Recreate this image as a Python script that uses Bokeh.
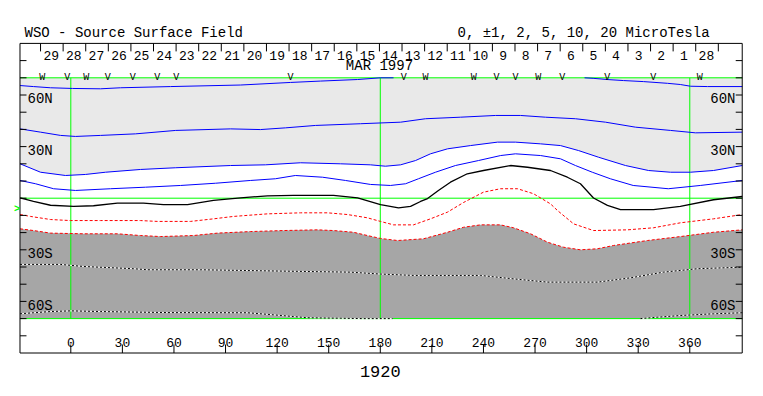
import numpy as np
from bokeh.plotting import figure
from bokeh.models import Range1d
from bokeh.core.properties import value
from bokeh.embed import file_html
from bokeh.resources import INLINE

# ---------------- data (Carrington longitude / latitude, degrees) ----------------
NAN = float("nan")

# +10 contour (blue, top)
c_p10_lon = [-29.5, -21.7, -11.8, 1.0, 17.3, 28.9, 58.0, 98.7, 127.8, 145.3, 166.8, 180.1, 187.7, 240.0,
             298.8, 303.8, 312.0, 321.4, 333.0, 347.0, 354.5, 360.4, 370.3, 390.5]
c_p10_lat = [65.5, 64.9, 64.2, 63.8, 63.6, 64.2, 64.9, 65.8, 67.3, 68.1, 69.0, 70.0, 70.0, NAN,
             70.0, 69.7, 69.0, 68.4, 67.8, 66.8, 66.1, 65.1, 64.9, 64.9]
# +5 contour (blue)
c_p5_lon = [-29.5, -17.6, -6.0, 2.7, 17.3, 37.6, 61.0, 92.9, 110.3, 124.9, 142.3, 168.5, 191.8, 206.3,
            226.6, 247.0, 261.5, 276.1, 293.5, 311.0, 328.4, 348.8, 363.3, 390.5]
c_p5_lat = [40.3, 38.4, 36.5, 35.9, 36.5, 37.4, 39.4, 40.3, 39.9, 40.9, 42.3, 43.3, 44.2, 46.2,
            47.1, 48.1, 48.1, 47.1, 46.2, 44.2, 41.3, 39.4, 38.0, 38.4]
# +2 contour (blue, edge of light shading)
c_p2_lon = [-29.5, -17.6, -3.1, 8.5, 20.2, 40.5, 61.0, 92.9, 113.2, 133.6, 156.8, 174.3, 183.0, 191.8,
            200.5, 209.2, 219.1, 232.5, 248.2, 258.6, 273.2, 284.8, 295.3, 307.0, 322.6, 336.0, 348.8,
            360.4, 373.8, 390.5]
c_p2_lat = [20.0, 15.1, 13.2, 13.8, 15.1, 16.7, 17.7, 19.0, 19.4, 20.6, 20.0, 19.4, 18.6, 19.4,
            21.9, 25.8, 28.7, 30.6, 32.6, 32.6, 31.6, 30.6, 27.7, 23.8, 19.0, 16.1, 15.1,
            15.1, 16.1, 19.0]
# +1 contour (blue)
c_p1_lon = [-29.5, -20.5, -10.0, 2.7, 23.1, 43.4, 63.8, 84.1, 104.4, 119.0, 130.6, 146.4, 159.8, 174.3,
            185.9, 194.7, 202.2, 212.1, 223.7, 237.1, 250.0, 258.6, 273.2, 284.8, 293.5, 303.3, 313.8,
            327.1, 347.5, 366.1, 390.5]
c_p1_lat = [10.3, 8.4, 5.5, 4.5, 5.5, 6.4, 7.4, 8.7, 10.3, 11.3, 13.2, 12.2, 10.3, 8.0,
            7.4, 8.4, 11.3, 15.1, 19.0, 21.9, 24.8, 25.8, 24.8, 22.9, 19.0, 15.1, 11.3,
            7.4, 5.5, 7.4, 10.3]
# neutral line (black)
c_0_lon = [-29.5, -21.7, -11.8, 1.6, 13.2, 27.1, 42.2, 53.9, 67.9, 83.0, 98.7, 114.4, 129.5, 152.8,
           166.8, 180.1, 190.6, 197.6, 203.4, 207.5, 213.8, 220.8, 230.6, 240.0, 255.7, 265.6, 279.0,
           288.8, 296.4, 304.0, 312.1, 319.7, 338.9, 354.5, 373.8, 390.5]
c_0_lat = [0.2, -1.8, -4.1, -4.8, -4.4, -2.9, -2.9, -3.7, -3.7, -1.3, 0.2, 1.4, 1.7, 1.7,
           0.2, -3.7, -5.6, -4.8, -1.9, -0.2, 4.5, 9.3, 14.2, 16.1, 19.0, 18.0, 16.1,
           12.2, 8.4, 0.1, -4.2, -6.7, -6.7, -4.8, -0.9, 1.0]
# -1 contour (red dashed)
c_m1_lon = [-29.5, -23.4, -11.8, -0.2, 17.3, 40.5, 50.4, 69.6, 83.0, 94.6, 114.4, 133.6, 149.3, 160.9,
            172.5, 180.1, 187.7, 199.3, 209.2, 219.1, 228.4, 240.0, 249.9, 259.8, 269.1, 279.0, 283.1,
            292.4, 304.0, 323.7, 338.9, 354.6, 373.8, 390.5]
c_m1_lat = [-9.5, -10.6, -12.4, -13.0, -13.0, -13.0, -13.5, -13.5, -12.0, -10.6, -9.1, -8.5, -8.5, -9.5,
            -11.4, -13.5, -15.5, -15.5, -12.0, -8.1, -2.5, 3.5, 5.5, 5.5, 2.6, -3.3, -7.2,
            -14.9, -18.8, -18.4, -17.2, -14.3, -12.0, -9.5]
# -2 contour (red dashed, edge of dark shading)
c_m2_lon = [-29.5, -21.7, -11.8, 7.4, 27.1, 40.5, 52.2, 71.4, 85.3, 104.5, 123.7, 143.4, 152.8, 164.4,
            172.5, 180.1, 190.0, 205.1, 219.1, 228.4, 238.3, 249.9, 257.5, 267.4, 277.3, 286.6, 296.4,
            306.3, 315.6, 335.4, 354.6, 373.8, 390.5]
c_m2_lat = [-17.8, -18.8, -20.3, -20.7, -20.7, -21.7, -22.3, -21.7, -20.3, -19.4, -18.8, -18.4, -18.8, -19.8,
            -21.7, -23.4, -24.6, -23.6, -19.8, -16.9, -15.5, -15.5, -17.2, -20.7, -25.6, -28.5, -30.0,
            -29.4, -27.5, -24.6, -22.3, -19.8, -18.4]
# -5 contour (dotted)
c_m5_lon = [-29.5, -6.0, 7.4, 36.5, 44.7, 75.4, 123.7, 162.7, 180.1, 199.3, 238.3, 257.5, 277.3, 306.3,
            325.5, 344.7, 364.4, 390.5]
c_m5_lat = [-38.5, -38.5, -39.7, -41.0, -41.6, -41.6, -42.4, -43.0, -44.1, -44.9, -44.9, -46.9, -48.8, -48.8,
            -46.3, -43.0, -41.0, -40.1]
# -10 contour (dotted, bottom)
c_m10_lon = [-29.5, -21.7, -11.8, 0.0, 17.3, 56.2, 102.8, 117.9, 129.5, 137.6, 156.9, 169.7, 187.2, 260.0,
             331.3, 341.2, 354.6, 373.8, 390.5]
c_m10_lat = [-67.2, -66.6, -65.9, -65.5, -65.9, -66.5, -66.6, -67.8, -68.8, -69.5, -69.8, -70.0, -70.0, NAN,
             -70.0, -69.2, -68.2, -67.2, -66.6]

# observation marks along the top of the map
obs_lon = [-16.6, -2.1, 9.0, 21.5, 36.1, 50.3, 61.3, 127.8, 193.7, 206.3, 234.4, 247.6, 258.6, 271.8,
           285.8, 312.0, 338.7, 365.8]
obs_txt = ["W", "V", "W", "V", "V", "V", "V", "V", "V", "W", "W", "V", "V", "W", "V", "V", "V", "W"]

# calendar (days of March 1997, decreasing with longitude)
day_labels = ["29", "28", "27", "26", "25", "24", "23", "22", "21", "20", "19", "18", "17", "16", "15",
              "14", "13", "12", "11", "10", "9", "8", "7", "6", "5", "4", "3", "2", "1", "28"]
first_day_lon = -17.6
deg_per_day = 13.14

lon_ticks = [0, 30, 60, 90, 120, 150, 180, 210, 240, 270, 300, 330, 360]
lat_ticks = [-80, -70, -60, -50, -40, -30, -20, -10, 0, 10, 20, 30, 40, 50, 60, 70, 80]
lat_label_vals = [60, 30, -30, -60]
lat_label_txt = ["60N", "30N", "30S", "60S"]
b0_angle = -6.8

# ---------------- layout ----------------
W, H = 755, 388
OFF = 0.0            # page offset of the canvas
KX = 1.7194          # px per degree longitude
KY = 1.72            # px per degree latitude
X0 = (OFF - 70.3) / KX
Y0 = (197.7 - OFF) / KY
FL, FR, FT, FB = -29.55, 390.5, 90.0, -90.0
MAPT, MAPB = 70.0, -70.0

p = figure(width=W, height=H, x_range=Range1d(X0, X0 + W / KX), y_range=Range1d(Y0 - H / KY, Y0),
           output_backend="svg", toolbar_location=None, x_axis_location=None, y_axis_location=None,
           min_border=0, min_border_left=0, min_border_right=0, min_border_top=0, min_border_bottom=0)
p.grid.visible = False
p.outline_line_color = None
p.background_fill_color = "white"
p.border_fill_color = "white"

FONT = value("Liberation Mono")

# shading
p.patch(x=c_p2_lon + [FR, FL], y=c_p2_lat + [MAPT, MAPT], fill_color="#e9e9e9", line_color=None)
p.patch(x=c_m2_lon + [FR, FL], y=c_m2_lat + [MAPB, MAPB], fill_color="#a6a6a6", line_color=None)

# green reference lines
GREEN = "#00ff00"
p.segment(x0=[FL, FL, FL], y0=[MAPT, 0, MAPB], x1=[FR, FR, FR], y1=[MAPT, 0, MAPB], line_color=GREEN, line_width=1)
p.segment(x0=[0, 180, 360], y0=[MAPB] * 3, x1=[0, 180, 360], y1=[MAPT] * 3, line_color=GREEN, line_width=1)

# contours
for lo, la in [(c_p10_lon, c_p10_lat), (c_p5_lon, c_p5_lat), (c_p2_lon, c_p2_lat), (c_p1_lon, c_p1_lat)]:
    p.line(np.array(lo, float), np.array(la, float), line_color="#0000ff", line_width=1)
p.line(c_0_lon, c_0_lat, line_color="black", line_width=1.3)
for lo, la in [(c_m1_lon, c_m1_lat), (c_m2_lon, c_m2_lat)]:
    p.line(lo, la, line_color="#ff0000", line_width=1, line_dash="3 2")
for lo, la in [(c_m5_lon, c_m5_lat), (c_m10_lon, c_m10_lat)]:
    p.line(np.array(lo, float), np.array(la, float), line_color="white", line_width=1)
    p.line(np.array(lo, float), np.array(la, float), line_color="black", line_width=1, line_dash="2 2")

# frame
p.quad(left=[FL], right=[FR], bottom=[FB], top=[FT], fill_color=None, line_color="black", line_width=1)

# latitude ticks (both sides)
tl = 6.5 / KX
p.segment(x0=[FL] * len(lat_ticks), y0=lat_ticks, x1=[FL + tl] * len(lat_ticks), y1=lat_ticks, line_color="black")
p.segment(x0=[FR - tl] * len(lat_ticks), y0=lat_ticks, x1=[FR] * len(lat_ticks), y1=lat_ticks, line_color="black")
lab_dy = 4.4 / KY
p.text(x=[FL + 7.5 / KX] * 4, y=[v - lab_dy for v in lat_label_vals], text=lat_label_txt,
       text_font=FONT, text_font_size="14px", text_align="left", text_baseline="alphabetic", text_color="black")
p.text(x=[FR - 6.7 / KX] * 4, y=[v - lab_dy for v in lat_label_vals], text=lat_label_txt,
       text_font=FONT, text_font_size="14px", text_align="right", text_baseline="alphabetic", text_color="black")

# longitude ticks / labels (inside frame, bottom)
p.segment(x0=lon_ticks, y0=[FB] * len(lon_ticks), x1=lon_ticks, y1=[FB + 8.5 / KY] * len(lon_ticks), line_color="black")
p.text(x=lon_ticks, y=[-84.1] * len(lon_ticks), text=[str(v) for v in lon_ticks],
       text_font=FONT, text_font_size="13px", text_align="center", text_baseline="alphabetic", text_color="black")

# calendar ticks / labels (inside frame, top)
day_tick_lon = [first_day_lon + i * deg_per_day for i in range(len(day_labels) + 1)]
p.segment(x0=day_tick_lon, y0=[FT] * len(day_tick_lon), x1=day_tick_lon, y1=[FT - 8 / KY] * len(day_tick_lon),
          line_color="black")
p.text(x=[t + 6.2 for t in day_tick_lon[:-1]], y=[83.0] * len(day_labels), text=day_labels,
       text_font=FONT, text_font_size="13px", text_align="center", text_baseline="alphabetic", text_color="black")
p.text(x=[179.5], y=[76.6], text=["MAR 1997"], text_font=FONT, text_font_size="14px",
       text_align="center", text_baseline="alphabetic", text_color="black")

# observation marks
p.text(x=obs_lon, y=[70.4] * len(obs_lon), text=obs_txt, text_font=FONT, text_font_size="10px",
       text_align="center", text_baseline="alphabetic", text_color="black")

# B0 marker
p.text(x=[(16.5 - 70.3) / KX], y=[b0_angle], text=[">"], text_font=FONT, text_font_size="10px",
       text_font_style="bold", text_align="center", text_baseline="middle", text_color=GREEN)

# titles
p.text(x=[(24 - 70.3) / KX], y=[96.3], text=["WSO - Source Surface Field"], text_font=FONT,
       text_font_size="14px", text_align="left", text_baseline="alphabetic", text_color="black")
p.text(x=[(457 - 70.3) / KX], y=[96.3], text=["0, \u00b11, 2, 5, 10, 20 MicroTesla"], text_font=FONT,
       text_font_size="14px", text_align="left", text_baseline="alphabetic", text_color="black")
p.text(x=[180.0], y=[-100.6], text=["1920"], text_font=FONT, text_font_size="17px",
       text_align="center", text_baseline="alphabetic", text_color="black")

open("out.html", "w").write(file_html(p, INLINE))
